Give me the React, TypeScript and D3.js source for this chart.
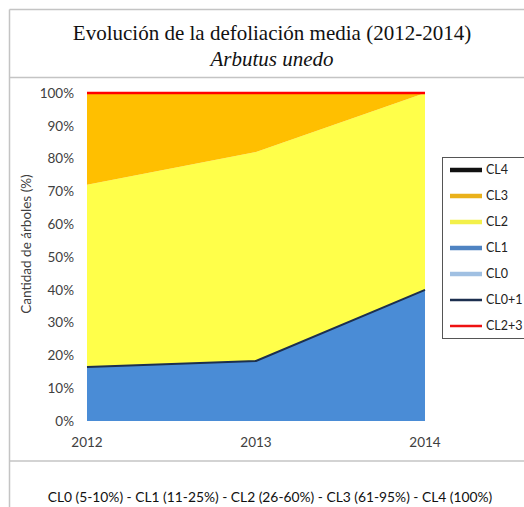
import * as d3 from "d3"

const years = ["2012", "2013", "2014"]
const cl0 = [0, 0, 0]
const cl1 = [16.5, 18.3, 40]
const cl2 = [55.5, 63.7, 60]
const cl3 = [28, 18, 0]
const cl4 = [0, 0, 0]
const cl01 = [16.5, 18.3, 40]
const cl23 = [83.5, 81.7, 60]
const yTicks = [0, 10, 20, 30, 40, 50, 60, 70, 80, 90, 100]

const legendItems = [
  { name: "CL4", color: "#111111", w: 4.5 },
  { name: "CL3", color: "#eab11a", w: 4.5 },
  { name: "CL2", color: "#f3f04a", w: 4.5 },
  { name: "CL1", color: "#4f83c2", w: 4.5 },
  { name: "CL0", color: "#a0c0e2", w: 4.5 },
  { name: "CL0+1", color: "#1c2f4f", w: 2.5 },
  { name: "CL2+3", color: "#ee1111", w: 2.5 },
]

const W = 524
const H = 507
const PLOT = { left: 87, right: 425, top: 93, bottom: 421 }

export default function App() {
  const x = d3.scalePoint().domain(years).range([PLOT.left, PLOT.right])
  const y = d3.scaleLinear().domain([0, 100]).range([PLOT.bottom, PLOT.top])

  const table = years.map((yr, i) => ({
    year: yr,
    cl0: cl0[i],
    cl1: cl1[i],
    cl2: cl2[i],
    cl3: cl3[i],
    cl4: cl4[i],
  }))
  const keys = ["cl0", "cl1", "cl2", "cl3", "cl4"]
  const fills: Record<string, string> = {
    cl0: "#9dc3e6",
    cl1: "#4a8cd6",
    cl2: "#ffff4a",
    cl3: "#ffbf00",
    cl4: "#000000",
  }
  const stacked = d3.stack<any>().keys(keys)(table)
  const area = d3
    .area<any>()
    .x((d) => x(d.data.year)!)
    .y0((d) => y(d[0]))
    .y1((d) => y(d[1]))

  const lineTable = years.map((yr, i) => ({ year: yr, a: cl01[i], b: cl23[i] }))
  const lineStack = d3.stack<any>().keys(["a", "b"])(lineTable)
  const line = d3
    .line<any>()
    .x((d) => x(d.data.year)!)
    .y((d) => y(d[1]))

  const legX = 442
  const legY = 157
  const step = 26

  const sans = "Lato, 'Open Sans', sans-serif"

  return (
    <svg width={W} height={H} style={{ position: "absolute", left: 0, top: 0 }}>
      <rect x={0} y={0} width={W} height={H} fill="#fff" />
      {/* frame */}
      <g stroke="#c4c4c4" strokeWidth={1.5} fill="none">
        <line x1={9.5} y1={9.5} x2={W} y2={9.5} />
        <line x1={9.5} y1={9.5} x2={9.5} y2={H} />
        <line x1={9.5} y1={77.5} x2={W} y2={77.5} />
        <line x1={9.5} y1={461} x2={W} y2={461} />
      </g>
      <text
        x={272}
        y={40}
        textAnchor="middle"
        fontFamily="'Liberation Serif', serif"
        fontSize={21}
        fill="#111"
      >
        Evolución de la defoliación media (2012-2014)
      </text>
      <text
        x={272}
        y={66}
        textAnchor="middle"
        fontFamily="'Liberation Serif', serif"
        fontStyle="italic"
        fontSize={21}
        fill="#111"
      >
        Arbutus unedo
      </text>

      {stacked.map((s) => (
        <path key={s.key} d={area(s) || ""} fill={fills[s.key]} />
      ))}
      {lineStack.map((s, i) => (
        <path
          key={s.key}
          d={line(s) || ""}
          fill="none"
          stroke={i === 0 ? "#1c2f4f" : "#ff0000"}
          strokeWidth={i === 0 ? 2 : 2.5}
        />
      ))}

      <g fontFamily={sans} fontSize={13.5} fill="#404040">
        {yTicks.map((t) => (
          <text key={t} x={74} y={y(t)} dy="0.35em" textAnchor="end">
            {t}%
          </text>
        ))}
        {years.map((yr) => (
          <text key={yr} x={x(yr)} y={447} textAnchor="middle">
            {yr}
          </text>
        ))}
        <text
          transform={`translate(31,${244}) rotate(-90)`}
          textAnchor="middle"
          fontSize={13.5}
        >
          Cantidad de árboles (%)
        </text>
      </g>

      <rect
        x={legX + 0.5}
        y={legY + 0.5}
        width={W - legX}
        height={181}
        fill="#fff"
        stroke="#555"
        strokeWidth={1}
      />
      <g fontFamily={sans} fontSize={12.5} fill="#222">
        {legendItems.map((it, i) => {
          const cy = legY + 13 + i * step
          return (
            <g key={it.name}>
              <line
                x1={450}
                x2={482}
                y1={cy}
                y2={cy}
                stroke={it.color}
                strokeWidth={it.w}
              />
              <text x={486} y={cy} dy="0.35em">
                {it.name}
              </text>
            </g>
          )
        })}
      </g>

      <text
        x={270}
        y={502}
        textAnchor="middle"
        fontFamily={sans}
        fontSize={13.8}
        fill="#111"
      >
        CL0 (5-10%) - CL1 (11-25%) - CL2 (26-60%) - CL3 (61-95%) - CL4 (100%)
      </text>
    </svg>
  )
}
